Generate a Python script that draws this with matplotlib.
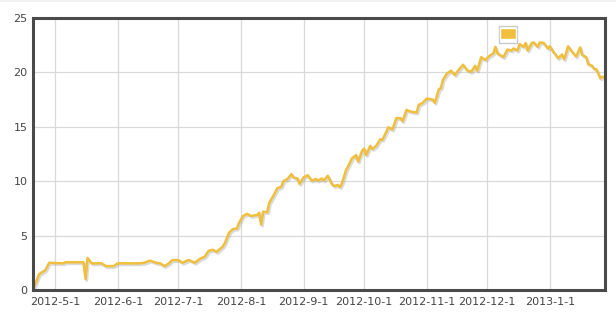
import pandas as pd
import matplotlib
matplotlib.use('Agg')
import matplotlib.pyplot as plt
import matplotlib.patheffects as pe
from matplotlib.patches import Patch

# days counted from start_date
start_date = '2012-04-20'
day = [0, 3, 5, 6, 8, 15, 16, 25, 26, 27, 29, 34, 36, 40, 42, 53,
       55, 58, 61, 63, 65, 67, 69, 72, 74, 77, 78, 80, 83, 85, 87, 89,
       91, 94, 95, 97, 99, 101, 102, 104, 106, 108, 111, 112, 113, 114,
       116, 117, 119, 121, 123, 124, 126, 128, 129, 131, 132, 134, 136,
       138, 140, 141, 143, 144, 146, 148, 149, 151, 152, 153, 155, 156,
       158, 160, 161, 163, 164, 165, 167, 168, 170, 172, 173, 175, 176,
       178, 180, 182, 183, 185, 187, 190, 191, 193, 195, 198, 199, 201,
       202, 203, 205, 207, 209, 210, 213, 215, 217, 219, 220, 222, 224,
       226, 228, 229, 230, 233, 235, 237, 238, 240, 241, 243, 244, 245,
       247, 248, 250, 251, 253, 255, 256, 258, 259, 260, 262, 263, 264,
       265, 267, 269, 271, 272, 274, 275, 277, 278, 279, 281, 282, 283]
value = [0.0, 1.45, 1.7, 1.8, 2.5, 2.45, 2.55, 2.55, 1.0, 2.95, 2.45, 2.45,
         2.2, 2.2, 2.45, 2.45,
         2.5, 2.7, 2.5, 2.45, 2.2, 2.4, 2.75, 2.75, 2.5, 2.75, 2.7, 2.5,
         2.9, 3.05, 3.6, 3.7, 3.5, 4.0, 4.3, 5.25, 5.6, 5.65, 6.15,
         6.8, 7.0, 6.8, 6.9, 7.1, 6.0, 7.2, 7.15, 8.0, 8.65, 9.35, 9.5,
         10.0, 10.2, 10.65, 10.35, 10.25, 9.75, 10.35, 10.55, 10.05, 10.2,
         10.05, 10.25, 10.05, 10.5, 9.75, 9.55, 9.65, 9.45,
         9.8, 11.0, 11.35, 12.1, 12.4, 11.8, 12.8, 13.0, 12.4, 13.25, 12.95,
         13.25, 13.85, 13.8, 14.55, 14.95, 14.75, 15.8, 15.8, 15.5, 16.55,
         16.4, 16.3, 17.0, 17.2, 17.6, 17.5, 17.2, 18.45, 18.55,
         19.3, 19.9, 20.15, 19.75, 20.05, 20.7, 20.2, 20.05, 20.6, 20.15,
         21.4, 21.15, 21.5, 21.75, 22.35, 21.75, 21.4, 22.1, 22.0, 22.2,
         22.0,
         22.6, 22.35, 22.7, 22.0, 22.7, 22.75, 22.35, 22.75, 22.7, 22.2,
         22.4, 21.8, 21.6, 21.3, 21.65, 21.2, 21.75, 22.4, 21.9, 21.45,
         22.3, 21.6, 21.4, 20.75, 20.6, 20.3, 20.3, 19.45, 19.6, 19.55]

tick_dates = ['2012-5-1', '2012-6-1', '2012-7-1', '2012-8-1', '2012-9-1',
              '2012-10-1', '2012-11-1', '2012-12-1', '2013-1-1']
y_ticks = [0, 5, 10, 15, 20, 25]

line_color = '#efbf3d'
label_color = '#444444'

start = pd.Timestamp(start_date)
dates = start + pd.to_timedelta(day, unit='D')

fig = plt.figure(figsize=(6.16, 3.19), dpi=100)
ax = fig.add_axes([33 / 616, 1 - 290 / 319, 572 / 616, 272 / 319])

ax.plot(dates, value, color=line_color, lw=1.8, solid_joinstyle='round',
        path_effects=[pe.SimpleLineShadow(offset=(1, -1.2), shadow_color='#999999', alpha=0.35),
                      pe.Normal()])

ax.set_xlim(start, start + pd.Timedelta(days=283.3))
ax.set_ylim(0, 25)
ax.set_yticks(y_ticks)
ax.set_xticks(pd.to_datetime(tick_dates))
ax.set_xticklabels(tick_dates)

ax.grid(True, color='#d9d9d9', lw=0.9)
ax.set_axisbelow(True)
ax.tick_params(length=0, labelsize=8, labelcolor=label_color)
ax.tick_params(axis='x', pad=5)
ax.tick_params(axis='y', pad=4)
for s in ax.spines.values():
    s.set_color('#4a4a4a')
    s.set_linewidth(2.2)

ax.legend(handles=[Patch(facecolor=line_color, edgecolor='white', lw=1)], labels=[''],
          loc='upper left', bbox_to_anchor=(466 / 572, 1 - 8 / 272),
          frameon=True, edgecolor='#bbbbbb', fancybox=False, borderpad=0.1,
          handlelength=1.1, handleheight=0.8, handletextpad=0, borderaxespad=0)

fig.add_artist(plt.Rectangle((0, 1 - 2 / 319), 1, 2 / 319, transform=fig.transFigure,
                             color='#f2f2f2', lw=0))

fig.savefig('out.png', dpi=100)
